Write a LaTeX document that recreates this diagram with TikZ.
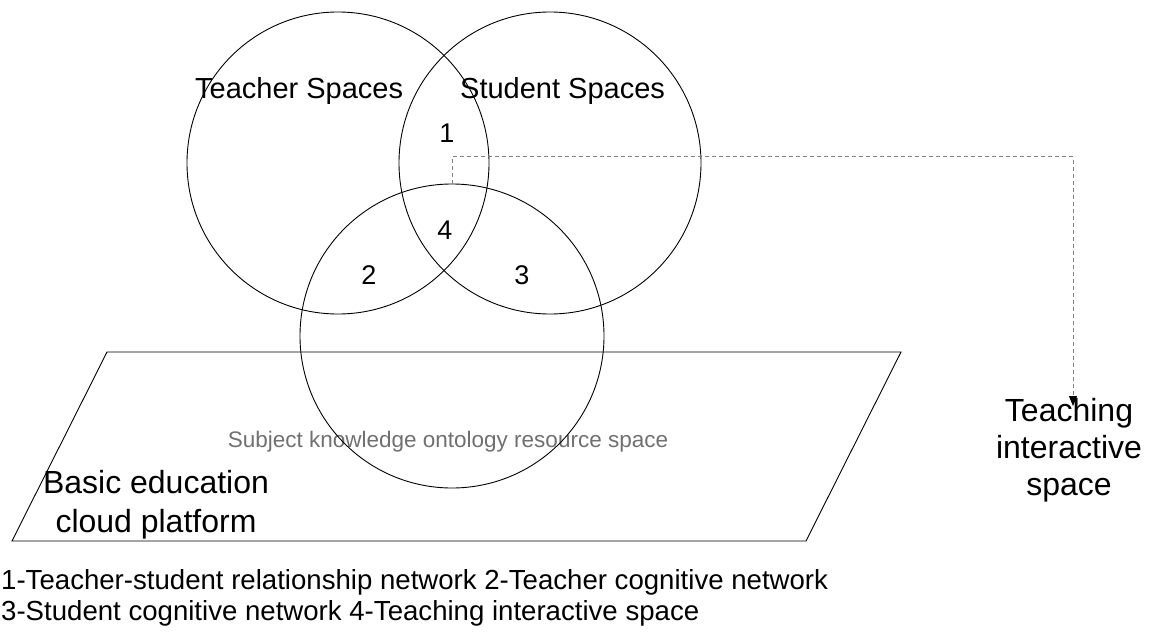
\documentclass[tikz,border=0pt]{standalone}
\usepackage{fontspec}
\setmainfont{Liberation Sans}
\usepackage{tikz}
\usetikzlibrary{arrows.meta, positioning}
\definecolor{labelgray}{HTML}{707070}
\definecolor{linkgray}{HTML}{808080}

\begin{document}
\begin{tikzpicture}[x=1pt, y=-1pt,
  space/.style={draw, circle, line width=0.9pt, minimum size=302pt, inner sep=0pt},
  txt/.style={font=\fontsize{29}{37}\selectfont, inner sep=0pt},
  num/.style={font=\fontsize{27}{32}\selectfont, inner sep=0pt, anchor=base},
  link/.style={linkgray, line width=0.9pt, dash pattern=on 4pt off 3pt},
]
\useasboundingbox (0,0) rectangle (1163,632);

% Platform
\draw[line width=0.9pt] (107,352) -- (901,352) -- (806,541) -- (12,541) -- cycle;
\node[font=\fontsize{22.5}{27}\selectfont, labelgray, inner sep=0pt, anchor=base] (onto) at (448,447) {Subject knowledge ontology resource space};
\node[txt, align=center, anchor=base, font=\fontsize{32}{39}\selectfont] (cloud) at (156,532) {Basic education\\cloud platform};

% Spaces
\node[space] (teacher) at (338,163) {};
\node[space] (student) at (550,163) {};
\node[space, minimum size=304pt] (resource) at (452,336) {};
\node[txt, anchor=base west] (tlabel) at (195,98) {Teacher Spaces};
\node[txt, anchor=base west] (slabel) at (460,98) {Student Spaces};

% Regions
\node[num] (n1) at (447,142) {1};
\node[num] (n4) at (445,239) {4};
\node[num] (n2) at (369,284) {2};
\node[num] (n3) at (522,284) {3};

% Interactive space
\node[txt, align=center, anchor=base, font=\fontsize{32}{37}\selectfont] (tia) at (1069,495) {Teaching\\interactive\\space};
\coordinate (tip) at (1073,406);
\draw[link, -{Triangle[length=10pt, width=8pt, color=black]}] (resource.north) -- ++(0,-27) -| (tip);

% Legend
\node[txt, align=left, anchor=base west, font=\fontsize{27.6}{31}\selectfont] (legend) at (1,620) {1-Teacher-student relationship network 2-Teacher cognitive network\\3-Student cognitive network 4-Teaching interactive space};
\end{tikzpicture}
\end{document}
